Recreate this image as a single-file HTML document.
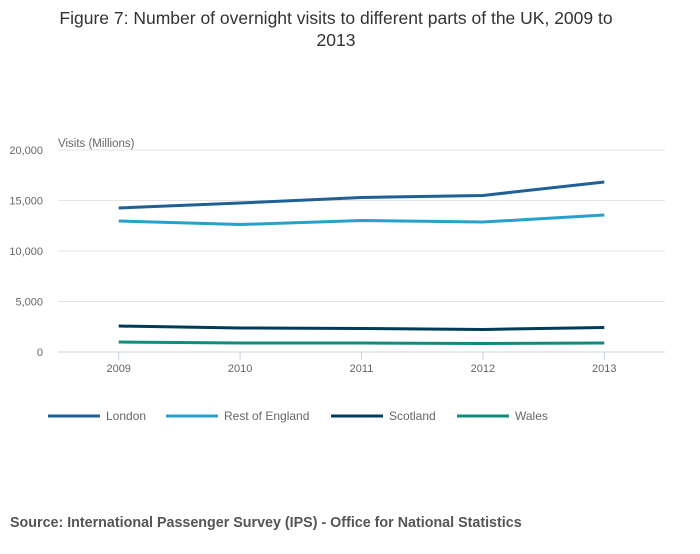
<!DOCTYPE html>
<html><head><meta charset="utf-8"><style>
body{margin:0;background:#fff;font-family:"Liberation Sans",sans-serif;}
</style></head><body>
<svg width="700" height="549" id="chart" xmlns="http://www.w3.org/2000/svg">
<text x="336" y="24" text-anchor="middle" font-size="17.5" fill="#333">Figure 7: Number of overnight visits to different parts of the UK, 2009 to</text>
<text x="336" y="46" text-anchor="middle" font-size="17.5" fill="#333">2013</text>
<text x="58" y="147" font-size="11.5" fill="#666">Visits (Millions)</text>
<g id="grid"></g><g id="lines"></g>
<g id="legend"></g>
<text x="10" y="527" font-size="14.3" font-weight="bold" fill="#555">Source: International Passenger Survey (IPS) - Office for National Statistics</text>
</svg>
<script>
const years=["2009","2010","2011","2012","2013"];
const yTicks=[0,5000,10000,15000,20000];
const yTickLabels=["0","5,000","10,000","15,000","20,000"];
const seriesNames=["London","Rest of England","Scotland","Wales"];
const london=[14260,14750,15300,15500,16830];
const restOfEngland=[12970,12620,13020,12870,13560];
const scotland=[2570,2380,2330,2230,2430];
const wales=[990,890,890,840,890];
const colors=["#206095","#27a0cc","#003c57","#118c7b"];
const NS="http://www.w3.org/2000/svg";
const L=58,R=665,T=150,B=352;
const band=(R-L)/years.length;
const x=i=>L+band*(i+0.5);
const y=v=>B-(v/20000)*(B-T);
function mk(tag,attrs,parent){const e=document.createElementNS(NS,tag);for(const k in attrs)e.setAttribute(k,attrs[k]);parent.appendChild(e);return e;}
const grid=document.getElementById('grid');
yTicks.forEach((t,i)=>{
 const ln=mk('line',{x1:L,x2:R,y1:y(t),y2:y(t),stroke:i==0?'#c9d3e4':'#e3e3e3','stroke-width':1},grid);
 
 
 const tx=mk('text',{x:43,y:y(t)+4,'text-anchor':'end','font-size':11,fill:'#666'},grid);
 tx.textContent=yTickLabels[i];
 
 
});
years.forEach((yr,i)=>{
 const tk=mk('line',{x1:x(i),x2:x(i),y1:B,y2:B+8,stroke:'#c9d3e4'},grid);
 
 
 const tx=mk('text',{x:x(i),y:B+20,'text-anchor':'middle','font-size':11,fill:'#666'},grid);
 tx.textContent=yr;
 
 
});
const all=[london,restOfEngland,scotland,wales];
const lines=document.getElementById('lines');
all.forEach((s,k)=>{
 const p=mk('polyline',{points:s.map((v,i)=>x(i)+','+y(v)).join(' '),fill:'none',stroke:colors[k],'stroke-width':3,'stroke-linejoin':'round'},lines);
 
 
});
const lg=document.getElementById('legend');
const lx=[48,166,331,457];
seriesNames.forEach((n,k)=>{
 const g=mk('g',{},lg);
 
 
 mk('line',{x1:lx[k],x2:lx[k]+52,y1:416,y2:416,stroke:colors[k],'stroke-width':3},g);
 const t=mk('text',{x:lx[k]+58,y:420,'font-size':12,fill:'#666'},g);
 t.textContent=n;
});
</script>
</body></html>
